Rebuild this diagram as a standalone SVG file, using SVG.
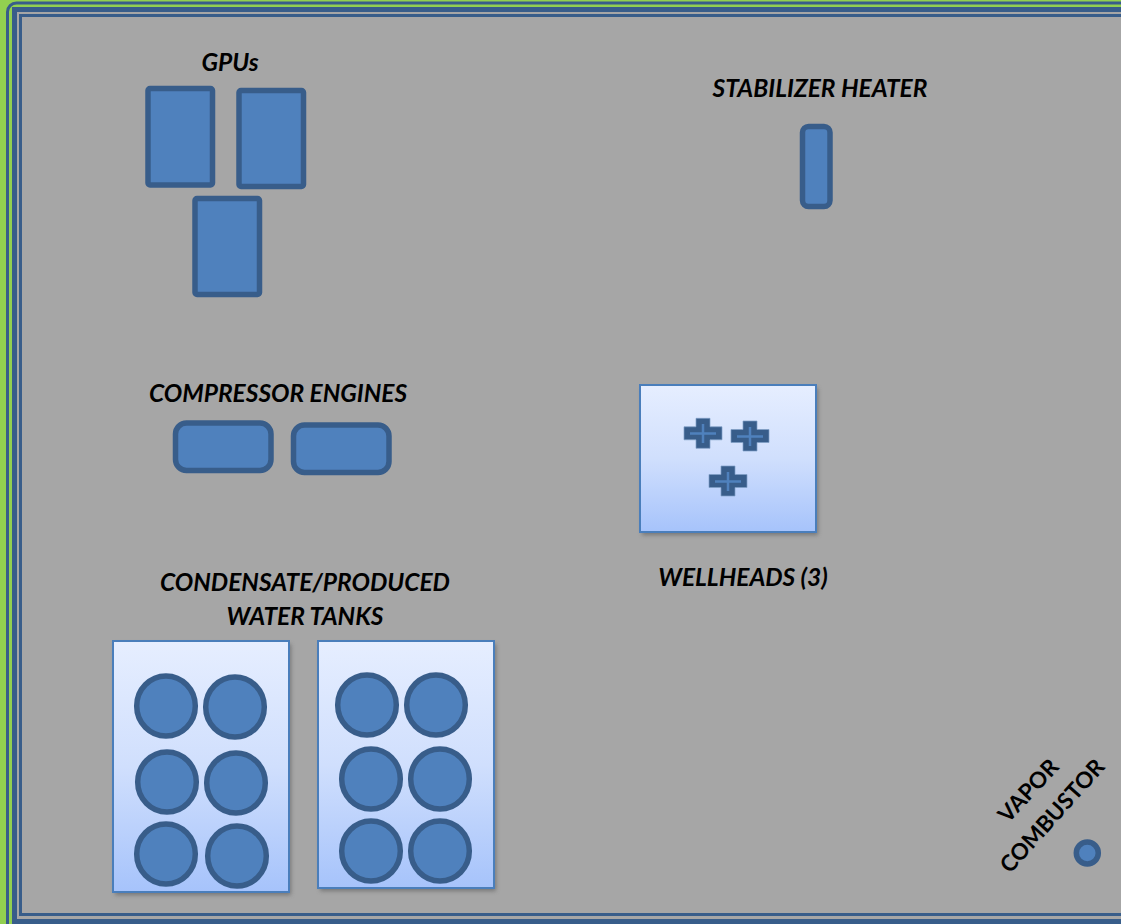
<svg xmlns="http://www.w3.org/2000/svg" width="1121" height="924" viewBox="0 0 1121 924">
<defs>
<linearGradient id="pad" x1="0" y1="0" x2="0" y2="1"><stop offset="0" stop-color="#e6eeff"/><stop offset="0.5" stop-color="#d0dffd"/><stop offset="1" stop-color="#a6c3fb"/></linearGradient>
<filter id="sh" x="-5%" y="-5%" width="110%" height="110%"><feGaussianBlur stdDeviation="2"/></filter>
<path id="plus" d="M-7,-15h14v8.500h12v13h-12v8.500h-14v-8.500h-12v-13h12z"/>
</defs>
<style>
.eq{fill:#4f81bd;stroke:#385d8a;stroke-width:5.500}
.pad{fill:url(#pad);stroke:#4a7ebb;stroke-width:2}
.sh{fill:#555;opacity:.6;filter:url(#sh)}
.cross{fill:#385d8a;stroke:#7f9fc6;stroke-width:.7}
.bar{stroke:#4f81bd;stroke-width:2.500;fill:none}
text{font-family:Lato,"Liberation Sans",sans-serif;font-weight:700;font-style:italic;font-size:24.500px;fill:#000}
.m{text-anchor:middle}
.r{font-style:normal;font-size:22.500px}
.fr{fill:none;stroke:#385d8a}
</style>
<rect width="1121" height="924" fill="#92d050"/>
<g id="site-boundary">
<rect x="7.500" y="3" width="1130" height="940" rx="9" class="fr" stroke-width="3"/>
<rect x="14.500" y="9.500" width="1130" height="912" fill="#a6a6a6" stroke="#385d8a" stroke-width="5"/>
<rect x="20.500" y="15.500" width="1130" height="899" class="fr" stroke-width="3"/>
</g>
<g id="connectors"/>
<g id="gpu-1"><rect x="148" y="88.500" width="64.500" height="96.500" rx="2" class="eq"/></g>
<g id="gpu-2"><rect x="239" y="90.500" width="64.500" height="96" rx="2" class="eq"/></g>
<g id="gpu-3"><rect x="195" y="198.500" width="64.500" height="96" rx="2" class="eq"/></g>
<text x="230" y="71" class="m">GPUs</text>
<g id="stabilizer-heater"><rect x="802.500" y="126.500" width="27.500" height="80" rx="6" class="eq"/>
<text x="820" y="97" class="m">STABILIZER HEATER</text></g>
<g id="compressor-engines"><rect x="175.500" y="423" width="95.500" height="47.500" rx="11" class="eq"/><rect x="293.500" y="425" width="95.500" height="47.500" rx="11" class="eq"/>
<text x="278" y="402" class="m">COMPRESSOR ENGINES</text></g>
<g id="wellheads">
<rect x="642" y="388" width="176" height="147" class="sh"/>
<rect x="640" y="385" width="176" height="147" class="pad"/>
<use href="#plus" x="703" y="433.300" class="cross"/><use href="#plus" x="750" y="436" class="cross"/><use href="#plus" x="728" y="481" class="cross"/>
<path d="M690,433.500h26M703,424v19M737,436.500h26M750,427v19M715,481.500h26M728,472v19" class="bar"/>
<text x="743" y="586" class="m">WELLHEADS (3)</text></g>
<g id="tanks-label"><text x="305" y="591" class="m">CONDENSATE/PRODUCED</text><text x="305" y="625" class="m">WATER TANKS</text></g>
<g id="tank-battery-1">
<rect x="115" y="644" width="176" height="251" class="sh"/>
<rect x="113" y="641" width="176" height="251" class="pad"/>
<ellipse cx="166" cy="706" rx="29.300" ry="30" class="eq"/><ellipse cx="235" cy="707" rx="29.300" ry="30" class="eq"/>
<ellipse cx="167" cy="782" rx="29.300" ry="30" class="eq"/><ellipse cx="236" cy="783" rx="29.300" ry="30" class="eq"/>
<ellipse cx="166" cy="854" rx="29.300" ry="30" class="eq"/><ellipse cx="237" cy="856" rx="29.300" ry="30" class="eq"/>
</g>
<g id="tank-battery-2">
<rect x="320" y="644" width="176" height="247" class="sh"/>
<rect x="318" y="641" width="176" height="247" class="pad"/>
<ellipse cx="367" cy="705" rx="29.300" ry="30" class="eq"/><ellipse cx="436" cy="705" rx="29.300" ry="30" class="eq"/>
<ellipse cx="371" cy="779" rx="29.300" ry="30" class="eq"/><ellipse cx="440" cy="779" rx="29.300" ry="30" class="eq"/>
<ellipse cx="371" cy="851" rx="29.300" ry="30" class="eq"/><ellipse cx="440" cy="851" rx="29.300" ry="30" class="eq"/>
</g>
<g id="vapor-combustor"><circle cx="1087.300" cy="853" r="11" class="eq"/>
<text class="r m" transform="translate(1034,796) rotate(-47)">VAPOR</text>
<text class="r m" transform="translate(1058,821) rotate(-48)">COMBUSTOR</text></g>
</svg>
